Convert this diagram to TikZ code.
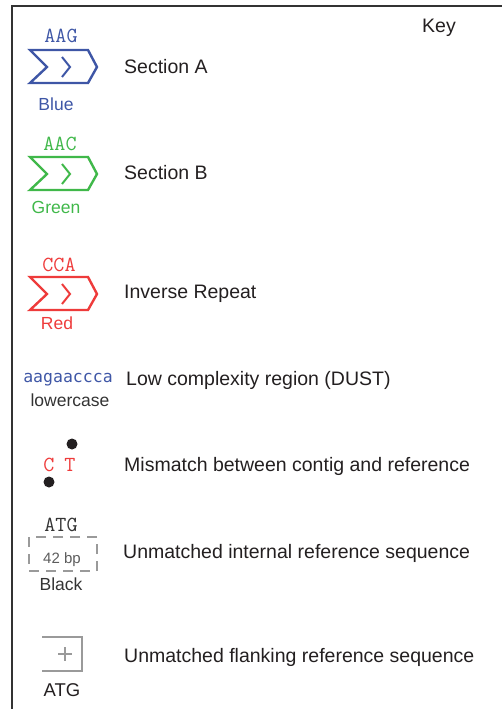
\documentclass[tikz,border=0pt]{standalone}
\usepackage{fontspec}
\setmainfont{Liberation Sans}
\newfontfamily\dejamono{DejaVu Sans Mono}
\definecolor{kblue}{HTML}{3E56A6}
\definecolor{kgreen}{HTML}{40B84A}
\definecolor{kred}{HTML}{EE3B3B}
\definecolor{kgray}{HTML}{9A9A9A}
\definecolor{ktext}{HTML}{231F20}
\definecolor{kdark}{HTML}{333333}
\begin{document}
\begin{tikzpicture}[x=1pt,y=-1pt,
  lbl/.style={anchor=west,inner sep=0pt,text=ktext,font=\fontsize{19.5}{20}\selectfont},
  small/.style={inner sep=0pt,font=\fontsize{17.5}{18}\selectfont},
  seq/.style={inner sep=0pt,font=\ttfamily\fontsize{21.5}{22}\selectfont},
  chev/.style={line width=2.4pt,line join=miter},
  pics/chevron/.style={code={
    \draw[chev,#1] (0,0) -- (58,0) -- (67,17) -- (58,33) -- (0,33) -- (17,17) -- cycle;
    \draw[chev,#1,line width=2pt] (32,7) -- (40,17) -- (32,27);
  }}]
\useasboundingbox (0,0) rectangle (502,709);
\draw[kdark,line width=2pt] (12,709) -- (12,6) -- (502,6);
\node[small,text=ktext,font=\fontsize{19.5}{20}\selectfont] (key) at (439,28) {Key};

% Section A
\node[seq,text=kblue] (aag) at (61,36) {AAG};
\pic at (30,50) {chevron=kblue};
\node[small,text=kblue] (blue) at (56,104) {Blue};
\node[lbl] (secA) at (124,67) {Section A};

% Section B
\node[seq,text=kgreen] (aac) at (60,144) {AAC};
\pic at (30,157) {chevron=kgreen};
\node[small,text=kgreen] (green) at (56,207) {Green};
\node[lbl] (secB) at (124,173) {Section B};

% Inverse repeat
\node[seq,text=kred] (cca) at (59,265) {CCA};
\pic at (30,277) {chevron=kred};
\node[small,text=kred] (red) at (57,323) {Red};
\node[lbl] (inv) at (124,294) {Inverse Repeat};

% Low complexity
\node[inner sep=0pt,text=kblue,font=\dejamono\fontsize{16.5}{18}\selectfont] (low) at (68,380) {aagaaccca};
\node[small,text=kdark] (lc) at (70,400) {lowercase};
\node[lbl] (dust) at (126,380) {Low complexity region (DUST)};

% Mismatch
\node[seq,text=kred] (c) at (49,465) {C};
\node[seq,text=kred] (t) at (70,465) {T};
\fill[ktext] (72,444) circle (5.5);
\fill[ktext] (49,482) circle (5.5);
\node[lbl] (mis) at (124,466) {Mismatch between contig and reference};

% Unmatched internal
\node[seq,text=kdark] (atg1) at (61,525) {ATG};
\node[draw=kgray,line width=2.4pt,dash pattern=on 10pt off 7pt,minimum width=68pt,minimum height=34pt,inner sep=0pt] (gap) at (63,554) {};
\node[inner sep=0pt,text=kdark!80,font=\fontsize{15}{16}\selectfont] (bp) at (62,560) {42 bp};
\node[small,text=kdark] (black) at (61,584) {Black};
\node[lbl] (umi) at (123,553) {Unmatched internal reference sequence};

% Unmatched flanking
\draw[kgray,line width=2.4pt] (42,637) -- (82,637) -- (82,671) -- (42,671);
\draw[kgray,line width=1.6pt] (58,654) -- (72,654) (65,647) -- (65,661);
\node[small,text=ktext,font=\fontsize{18.5}{19}\selectfont] (atg2) at (62,690) {ATG};
\node[lbl] (umf) at (124,657) {Unmatched flanking reference sequence};
\end{tikzpicture}
\end{document}
